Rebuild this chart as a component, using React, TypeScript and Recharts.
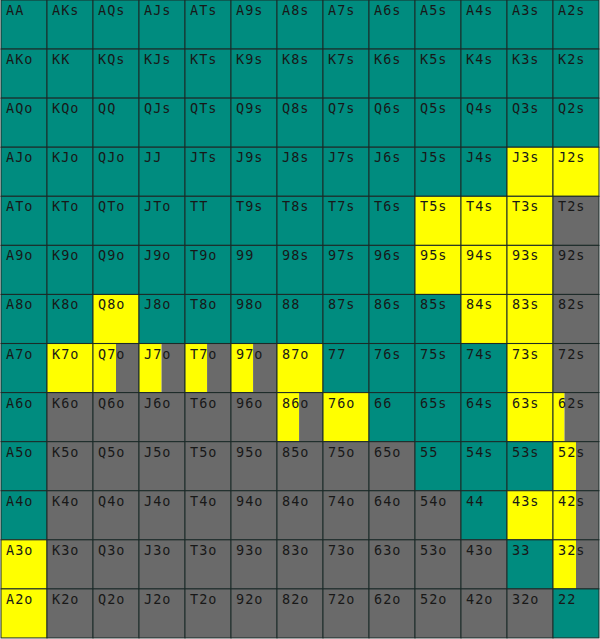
import React from 'react';
import { BarChart, Bar, XAxis, YAxis, Customized } from 'recharts';

// Hand ranks, top-to-bottom rows and left-to-right columns
const RANKS = ['A', 'K', 'Q', 'J', 'T', '9', '8', '7', '6', '5', '4', '3', '2'];

// Action per cell: R = teal action, C = yellow action, F = grey (fold), M = mixed yellow / grey
const ACTION_ROWS = [
  'RRRRRRRRRRRRR',
  'RRRRRRRRRRRRR',
  'RRRRRRRRRRRRR',
  'RRRRRRRRRRRCC',
  'RRRRRRRRRCCCF',
  'RRRRRRRRRCCCF',
  'RRCRRRRRRRCCF',
  'RCMMMMCRRRRCF',
  'RFFFFFMCRRRCM',
  'RFFFFFFFFRRRM',
  'RFFFFFFFFFRCM',
  'CFFFFFFFFFFRM',
  'CFFFFFFFFFFFR',
];

// Yellow share of the mixed cells (rest is grey)
const MIXED_HANDS = ['Q7o', 'J7o', 'T7o', '97o', '86o', '62s', '52s', '42s', '32s'];
const MIXED_YELLOW = [0.5, 0.49, 0.48, 0.48, 0.48, 0.25, 0.5, 0.5, 0.5];

const TEAL = '#008C7F';
const YELLOW = '#FFFF00';
const GREY = '#6A6A6A';
const LINE = '#1B2A28';

const handName = (r: number, c: number) => {
  if (r === c) return RANKS[r] + RANKS[c];
  if (c > r) return RANKS[r] + RANKS[c] + 's';
  return RANKS[c] + RANKS[r] + 'o';
};

const data = RANKS.map((rk, r) => {
  const row: any = { row: rk, rowIndex: r };
  RANKS.forEach((_, c) => {
    row['c' + c] = 1;
  });
  return row;
});

const shares = (r: number, c: number) => {
  const code = ACTION_ROWS[r][c];
  if (code === 'R') return [1, 0, 0];
  if (code === 'C') return [0, 1, 0];
  if (code === 'F') return [0, 0, 1];
  const idx = MIXED_HANDS.indexOf(handName(r, c));
  const y = idx >= 0 ? MIXED_YELLOW[idx] : 0.5;
  return [0, y, 1 - y];
};

const makeShape = (c: number) => (props: any) => {
  const { x, y, width, height, payload } = props;
  const r = payload.rowIndex;
  const [t, yl, g] = shares(r, c);
  const wT = width * t;
  const wY = width * yl;
  const wG = width * g;
  return (
    <g>
      {wT > 0 && <rect x={x} y={y} width={wT} height={height} fill={TEAL} />}
      {wY > 0 && <rect x={x + wT} y={y} width={wY} height={height} fill={YELLOW} />}
      {wG > 0 && <rect x={x + wT + wY} y={y} width={wG} height={height} fill={GREY} />}
      <rect x={x} y={y} width={width} height={height} fill="none" stroke={LINE} strokeWidth={1} />
      <text
        x={x + 5}
        y={y + 15}
        style={{ fontFamily: "'DejaVu Sans Mono', monospace", fontSize: '13.5px', letterSpacing: '1px' }}
        fill="#181818"
      >
        {handName(r, c)}
      </text>
    </g>
  );
};

const Watermark = (props: any) => {
  const { offset } = props;
  if (!offset) return null;
  return (
    <text
      x={offset.left + 50}
      y={offset.top + offset.height * 0.915}
      style={{ fontFamily: "'DejaVu Sans', sans-serif", fontSize: '36px', fontWeight: 200, letterSpacing: '22px' }}
      fill="#ffffff"
      fillOpacity={0.09}
    >
      BLUFF THE SPOT
    </text>
  );
};

export default function App() {
  return (
    <div style={{ position: 'absolute', left: 0, top: 0, width: 600, height: 639, background: '#fff' }}>
      <BarChart
        width={600}
        height={639}
        data={data}
        layout="vertical"
        margin={{ top: 0, right: 1, bottom: 1, left: 1 }}
        barCategoryGap={0}
        barGap={0}
      >
        <XAxis type="number" domain={[0, 13]} hide />
        <YAxis type="category" dataKey="row" hide />
        {RANKS.map((_, c) => (
          <Bar
            key={c}
            dataKey={'c' + c}
            stackId="grid"
            isAnimationActive={false}
            shape={makeShape(c)}
          />
        ))}
        <Customized component={Watermark} />
      </BarChart>
    </div>
  );
}
